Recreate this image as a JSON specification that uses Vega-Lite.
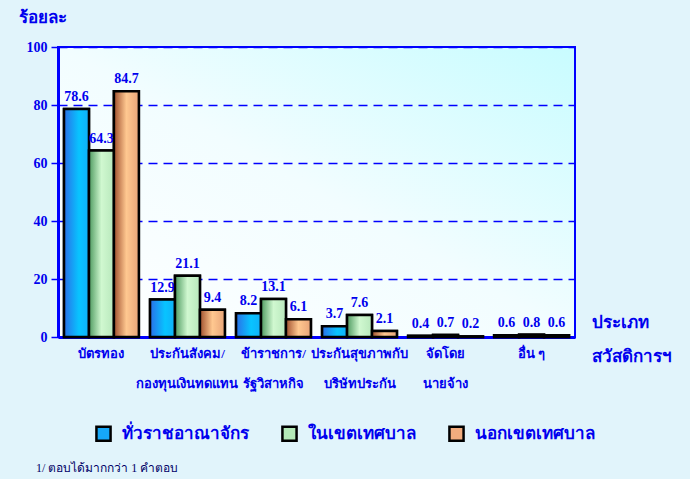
{
  "$schema": "https://vega.github.io/schema/vega-lite/v6.json",
  "width": 517,
  "height": 290,
  "autosize": {"type": "none"},
  "padding": {"left": 58, "top": 47, "right": 115, "bottom": 142},
  "background": "#E1F4FB",
  "config": {
    "view": {
      "stroke": "#0000FF",
      "strokeWidth": 2,
      "fill": {"gradient": "linear", "x1": 0, "y1": 1, "x2": 1, "y2": 0, "stops": [{"offset": 0, "color": "#FFFFFF"}, {"offset": 0.5, "color": "#F2FDFF"}, {"offset": 1, "color": "#C8FCFF"}]}
    },
    "axisY": {"gridColor": "#0000FF", "gridOpacity": 1},
    "font": "Liberation Serif"
  },
  "data": {
    "values": [
      {"cat": "บัตรทอง", "series": "ทั่วราชอาณาจักร", "v": 78.6},
      {"cat": "บัตรทอง", "series": "ในเขตเทศบาล", "v": 64.3},
      {"cat": "บัตรทอง", "series": "นอกเขตเทศบาล", "v": 84.7},
      {"cat": "ประกันสังคม/|กองทุนเงินทดแทน", "series": "ทั่วราชอาณาจักร", "v": 12.9},
      {"cat": "ประกันสังคม/|กองทุนเงินทดแทน", "series": "ในเขตเทศบาล", "v": 21.1},
      {"cat": "ประกันสังคม/|กองทุนเงินทดแทน", "series": "นอกเขตเทศบาล", "v": 9.4},
      {"cat": "ข้าราชการ/|รัฐวิสาหกิจ", "series": "ทั่วราชอาณาจักร", "v": 8.2},
      {"cat": "ข้าราชการ/|รัฐวิสาหกิจ", "series": "ในเขตเทศบาล", "v": 13.1},
      {"cat": "ข้าราชการ/|รัฐวิสาหกิจ", "series": "นอกเขตเทศบาล", "v": 6.1},
      {"cat": "ประกันสุขภาพกับ|บริษัทประกัน", "series": "ทั่วราชอาณาจักร", "v": 3.7},
      {"cat": "ประกันสุขภาพกับ|บริษัทประกัน", "series": "ในเขตเทศบาล", "v": 7.6},
      {"cat": "ประกันสุขภาพกับ|บริษัทประกัน", "series": "นอกเขตเทศบาล", "v": 2.1},
      {"cat": "จัดโดย|นายจ้าง", "series": "ทั่วราชอาณาจักร", "v": 0.4},
      {"cat": "จัดโดย|นายจ้าง", "series": "ในเขตเทศบาล", "v": 0.7},
      {"cat": "จัดโดย|นายจ้าง", "series": "นอกเขตเทศบาล", "v": 0.2},
      {"cat": "อื่น ๆ", "series": "ทั่วราชอาณาจักร", "v": 0.6},
      {"cat": "อื่น ๆ", "series": "ในเขตเทศบาล", "v": 0.8},
      {"cat": "อื่น ๆ", "series": "นอกเขตเทศบาล", "v": 0.6}
    ]
  },
  "title": {
    "text": "1/  ตอบได้มากกว่า 1 คำตอบ",
    "orient": "bottom",
    "anchor": "start",
    "font": "Liberation Serif",
    "fontSize": 12,
    "fontWeight": "normal",
    "color": "#000066",
    "offset": 17,
    "dx": 18
  },
  "encoding": {
    "x": {
      "field": "cat",
      "type": "nominal",
      "sort": null,
      "scale": {"paddingInner": 0.13, "paddingOuter": 0.07},
      "axis": {
        "labelAngle": 0,
        "labelExpr": "split(datum.label, '|')",
        "labelFont": "Liberation Serif",
        "labelFontSize": 13,
        "labelFontWeight": "bold",
        "labelColor": "#0000EE",
        "labelLineHeight": 30,
        "labelPadding": 10,
        "labelLimit": 200,
        "labelBaseline": "top",
        "ticks": false,
        "domainColor": "#0000FF",
        "domainWidth": 3,
        "title": ["ประเภท", "สวัสดิการฯ"],
        "titleFont": "Liberation Serif",
        "titleFontSize": 17,
        "titleFontWeight": "bold",
        "titleColor": "#0000EE",
        "titleX": 533,
        "titleY": -23,
        "titleAlign": "left",
        "titleBaseline": "top",
        "titleLineHeight": 34
      }
    },
    "xOffset": {"field": "series", "type": "nominal", "sort": ["ทั่วราชอาณาจักร", "ในเขตเทศบาล", "นอกเขตเทศบาล"], "scale": {"paddingInner": 0, "paddingOuter": 0}},
    "y": {
      "field": "v",
      "type": "quantitative",
      "scale": {"domain": [0, 100]},
      "axis": {
        "values": [0, 20, 40, 60, 80, 100],
        "labelFont": "Liberation Serif",
        "labelFontSize": 14,
        "labelFontWeight": "bold",
        "labelColor": "#0000EE",
        "labelPadding": 4,
        "tickColor": "#0000FF",
        "tickSize": 7,
        "tickWidth": 1.5,
        "domainColor": "#0000FF",
        "domainWidth": 3,
        "gridColor": "#0000FF",
        "gridOpacity": 1,
        "gridDash": [9, 6],
        "gridWidth": 1.5,
        "title": "ร้อยละ",
        "titleAngle": 0,
        "titleFont": "Liberation Serif",
        "titleFontSize": 17,
        "titleFontWeight": "bold",
        "titleColor": "#0000EE",
        "titleX": -40,
        "titleY": -30,
        "titleAlign": "left",
        "titleBaseline": "middle"
      }
    }
  },
  "layer": [
    {
      "mark": {"type": "bar", "stroke": "black", "strokeWidth": 2.5},
      "encoding": {
        "color": {
          "field": "series",
          "type": "nominal",
          "sort": ["ทั่วราชอาณาจักร", "ในเขตเทศบาล", "นอกเขตเทศบาล"],
          "scale": {"domain": ["ทั่วราชอาณาจักร", "ในเขตเทศบาล", "นอกเขตเทศบาล"], "range": ["#16A8F8", "#B4EAB8", "#F2AC7E"]},
          "legend": {
            "orient": "none",
            "legendX": 37,
            "legendY": 378,
            "direction": "horizontal",
            "title": null,
            "symbolType": "square",
            "symbolSize": 200,
            "symbolStrokeColor": "black",
            "symbolStrokeWidth": 2.5,
            "symbolOpacity": 1,
            "labelFont": "Liberation Serif",
            "labelFontSize": 17,
            "labelFontWeight": "bold",
            "labelColor": "#0000EE",
            "labelOffset": 10,
            "labelLimit": 300,
            "columnPadding": 28
          }
        }
      }
    },
    {
      "mark": {"type": "bar", "stroke": "black", "strokeWidth": 2.5},
      "encoding": {
        "fill": {
          "condition": [
            {"test": "datum.series === 'ทั่วราชอาณาจักร'", "value": {"gradient": "linear", "x1": 0, "y1": 0, "x2": 1, "y2": 0, "stops": [{"offset": 0, "color": "#2A6FE8"}, {"offset": 0.6, "color": "#08C4FF"}, {"offset": 1, "color": "#10B0F8"}]}},
            {"test": "datum.series === 'ในเขตเทศบาล'", "value": {"gradient": "linear", "x1": 0, "y1": 0, "x2": 1, "y2": 0, "stops": [{"offset": 0, "color": "#4E9A60"}, {"offset": 0.5, "color": "#D0F8D0"}, {"offset": 1, "color": "#B8E8BC"}]}}
          ],
          "value": {"gradient": "linear", "x1": 0, "y1": 0, "x2": 1, "y2": 0, "stops": [{"offset": 0, "color": "#A0502E"}, {"offset": 0.5, "color": "#FFC890"}, {"offset": 1, "color": "#E8A478"}]}
        }
      }
    },
    {
      "mark": {"type": "text", "dy": -12, "font": "Liberation Serif", "fontSize": 14, "fontWeight": "bold", "color": "#0000EE"},
      "encoding": {
        "text": {"field": "v", "type": "quantitative", "format": ".1f"}
      }
    }
  ]
}
